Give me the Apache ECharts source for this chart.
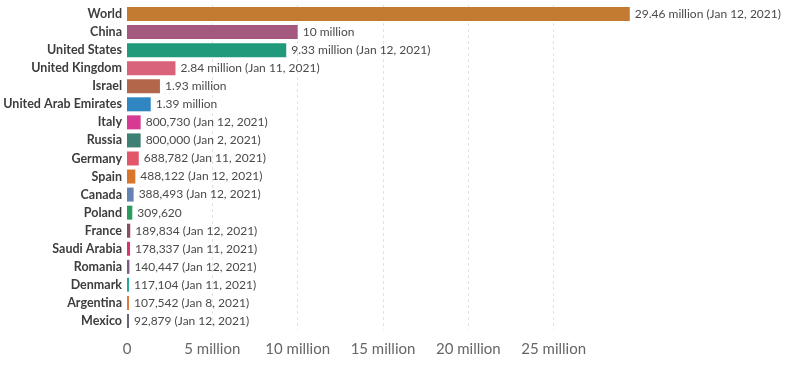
<!DOCTYPE html>
<html>
<head>
<meta charset="utf-8">
<script src="https://cdn.jsdelivr.net/npm/echarts@6/dist/echarts.min.js"></script>
<style>
  html, body { margin: 0; padding: 0; background: #fff; }
  #chart { width: 800px; height: 376px; }
</style>
</head>
<body>
<div id="chart"></div>
<script>
// 国家/地区（从上到下）
const countries = ['World', 'China', 'United States', 'United Kingdom', 'Israel', 'United Arab Emirates',
  'Italy', 'Russia', 'Germany', 'Spain', 'Canada', 'Poland', 'France', 'Saudi Arabia',
  'Romania', 'Denmark', 'Argentina', 'Mexico'];
// 接种剂数
const doses = [29460000, 10000000, 9330000, 2840000, 1930000, 1390000,
  800730, 800000, 688782, 488122, 388493, 309620, 189834, 178337,
  140447, 117104, 107542, 92879];
// 数值标签
const valueLabels = ['29.46 million (Jan 12, 2021)', '10 million', '9.33 million (Jan 12, 2021)',
  '2.84 million (Jan 11, 2021)', '1.93 million', '1.39 million',
  '800,730 (Jan 12, 2021)', '800,000 (Jan 2, 2021)', '688,782 (Jan 11, 2021)',
  '488,122 (Jan 12, 2021)', '388,493 (Jan 12, 2021)', '309,620',
  '189,834 (Jan 12, 2021)', '178,337 (Jan 11, 2021)', '140,447 (Jan 12, 2021)',
  '117,104 (Jan 11, 2021)', '107,542 (Jan 8, 2021)', '92,879 (Jan 12, 2021)'];
// 柱子颜色
const barColors = ['#c27b30', '#a4587f', '#1f9a7b', '#d9637a', '#b3674a', '#2f86c0',
  '#d63a92', '#3e8073', '#e2566a', '#d8772b', '#6582b2', '#2b9a5f',
  '#8a4c66', '#d93470', '#7c5d80', '#2aa79b', '#de7845', '#666677'];

const chart = echarts.init(document.getElementById('chart'));

const option = {
  animation: false,
  textStyle: { fontFamily: 'Lato, "Noto Sans", sans-serif' },
  grid: {
    left: 127,
    right: 161,
    top: 5,
    bottom: 46
  },
  xAxis: {
    type: 'value',
    min: 0,
    max: 30000000,
    interval: 5000000,
    axisLine: { show: false },
    axisTick: { show: false },
    axisLabel: {
      color: '#666',
      fontSize: 15,
      margin: 12,
      showMaxLabel: false,
      formatter: v => v === 0 ? '0' : (v / 1e6) + ' million'
    },
    splitLine: {
      show: true,
      showMinLine: false,
      showMaxLine: false,
      lineStyle: { color: '#e3e3e3', type: [3, 3], width: 1 }
    }
  },
  yAxis: {
    type: 'category',
    inverse: true,
    data: countries,
    axisLine: { show: false },
    axisTick: { show: false },
    axisLabel: {
      color: '#3d3d3d',
      fontSize: 12.5,
      fontWeight: 'bold',
      margin: 5
    }
  },
  series: [{
    type: 'bar',
    data: doses.map((v, i) => ({ value: v, itemStyle: { color: barColors[i] } })),
    barWidth: 14,
    barMinHeight: 2,
    label: {
      show: true,
      position: 'right',
      distance: 5,
      color: '#4a4a4a',
      fontSize: 12,
      formatter: p => valueLabels[p.dataIndex]
    }
  }]
};

chart.setOption(option);
</script>
</body>
</html>
